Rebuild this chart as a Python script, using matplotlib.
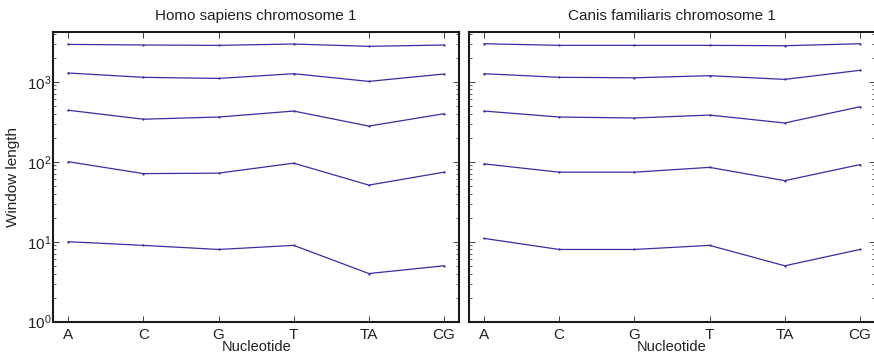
import matplotlib
matplotlib.use("Agg")
import matplotlib.pyplot as plt
from matplotlib.ticker import LogLocator, NullFormatter

plt.rcParams['font.family'] = ['Liberation Sans', 'DejaVu Sans']

nucleotides = ["A", "C", "G", "T", "TA", "CG"]

homo_s1 = [2930, 2880, 2850, 2960, 2770, 2880]
homo_s2 = [1285, 1135, 1100, 1260, 1010, 1250]
homo_s3 = [440, 340, 362, 430, 279, 398]
homo_s4 = [100, 71, 72, 96, 51, 74]
homo_s5 = [10, 9, 8, 9, 4, 5]

canis_s1 = [2985, 2850, 2850, 2850, 2820, 2985]
canis_s2 = [1260, 1135, 1120, 1190, 1070, 1390]
canis_s3 = [430, 362, 352, 383, 305, 487]
canis_s4 = [94, 74, 74, 85, 58, 92]
canis_s5 = [11, 8, 8, 9, 5, 8]

titles = ["Homo sapiens chromosome 1", "Canis familiaris chromosome 1"]
panels = [[homo_s1, homo_s2, homo_s3, homo_s4, homo_s5],
          [canis_s1, canis_s2, canis_s3, canis_s4, canis_s5]]

line_color = "#3d2d9c"
text_color = "#222222"

fig = plt.figure(figsize=(8.74, 3.56), dpi=100)
H = 356.0
W = 874.0
bottom = (H - 321.7) / H
top = 1 - 32.3 / H
ax1 = fig.add_axes([53.3 / W, bottom, (459 - 53.3) / W, top - bottom])
ax2 = fig.add_axes([469 / W, bottom, (875 - 469) / W, top - bottom])

for i, (ax, title, series) in enumerate(zip([ax1, ax2], titles, panels)):
    x = list(range(len(nucleotides)))
    for s in series:
        ax.plot(x, s, color=line_color, lw=0.9, marker='o', markersize=1.6,
                markeredgewidth=0)
    ax.set_yscale('log')
    ax.set_ylim(1, 4150)
    ax.set_xlim(-0.2, 5.2)
    ax.set_xticks(x)
    ax.set_xticklabels(nucleotides, fontsize=11)
    ax.yaxis.set_major_locator(LogLocator(base=10, numticks=10))
    ax.yaxis.set_minor_locator(LogLocator(base=10, subs=range(2, 10), numticks=10))
    ax.yaxis.set_minor_formatter(NullFormatter())
    ax.tick_params(which='major', direction='in', length=4, width=0.6,
                   top=True, right=True, labelsize=11, colors=text_color)
    ax.tick_params(axis='y', which='major', pad=1.5)
    ax.tick_params(axis='x', which='major', pad=4.5)
    ax.tick_params(which='minor', direction='in', length=2, width=0.5,
                   top=False, right=True, colors=text_color)
    for sp in ax.spines.values():
        sp.set_linewidth(1.5)
        sp.set_color('#1a1a1a')
    ax.set_title(title, fontsize=11, pad=9, color=text_color)
    ax.set_xlabel("Nucleotide", fontsize=10.5, labelpad=-1.5, color=text_color)
    ax.minorticks_on()
    ax.tick_params(axis='x', which='minor', bottom=False, top=False)

ax1.set_ylabel("Window length", fontsize=11, color=text_color)
ax1.yaxis.set_label_coords(-0.082, 0.5)
ax2.tick_params(axis='y', which='both', labelleft=False)
ax2.spines['right'].set_visible(False)

fig.savefig("out.png", dpi=100)
